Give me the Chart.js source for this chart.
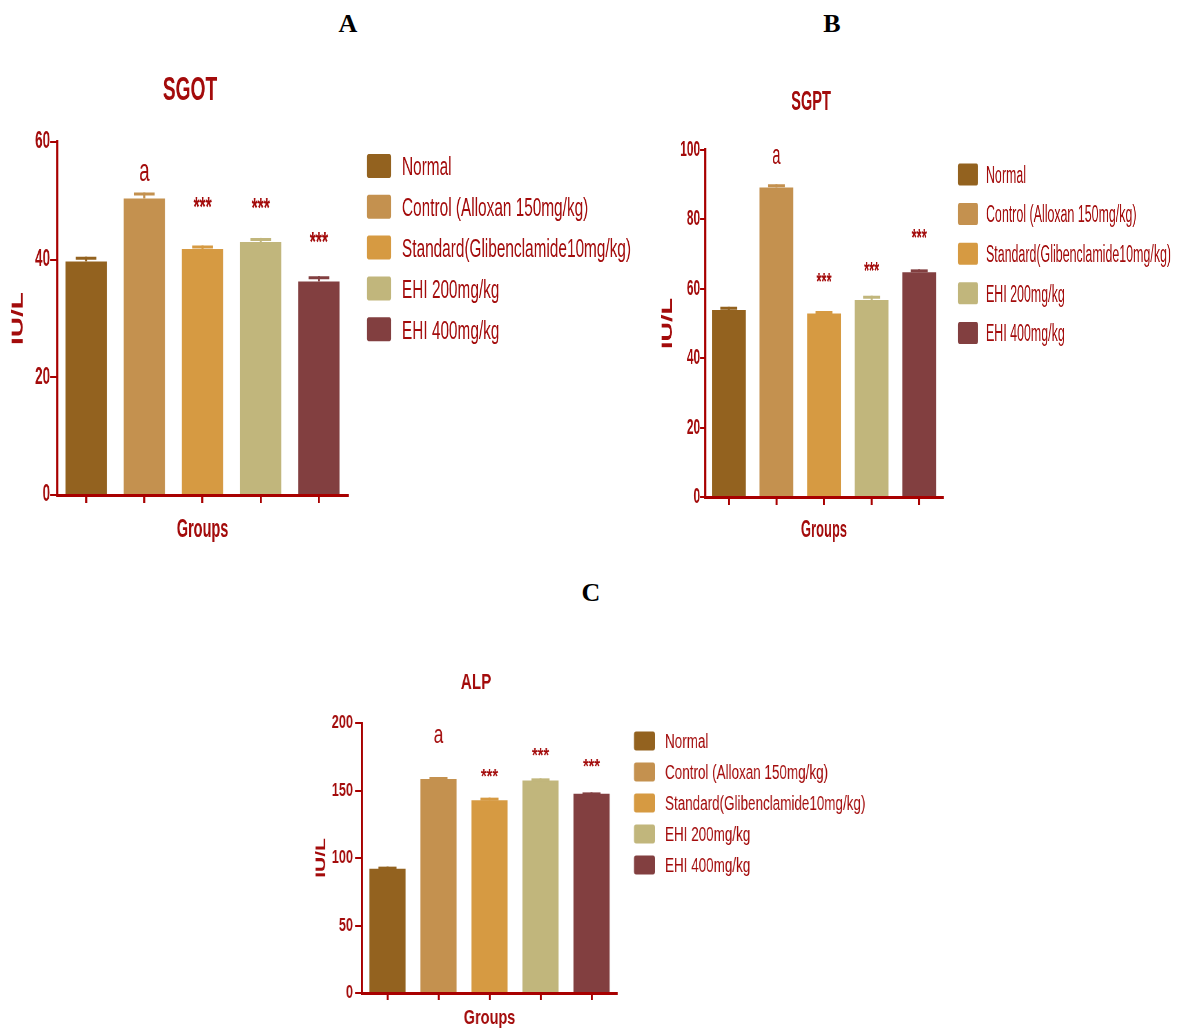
<!DOCTYPE html>
<html>
<head>
<meta charset="utf-8">
<title>SGOT / SGPT / ALP</title>
<script src="https://cdn.jsdelivr.net/npm/chart.js@4.4.1/dist/chart.umd.min.js"></script>
<style>
  html, body { margin: 0; padding: 0; background: #fff; }
  body { width: 1177px; height: 1028px; position: relative; overflow: hidden; }
  .panel { position: absolute; transform-origin: 0 0; }
  .panel canvas { display: block; }
  .letter {
    position: absolute;
    font-family: 'Liberation Serif', 'Times New Roman', serif;
    font-weight: bold;
    font-size: 26px;
    color: #000;
    transform: translate(-50%, -50%);
  }
</style>
</head>
<body>
<div class="letter" style="left:348px; top:24px;">A</div>
<div class="letter" style="left:832px; top:24px;">B</div>
<div class="letter" style="left:591px; top:593px;">C</div>

<div class="panel" id="panelA"><canvas id="sgotChart"></canvas></div>
<div class="panel" id="panelB"><canvas id="sgptChart"></canvas></div>
<div class="panel" id="panelC"><canvas id="alpChart"></canvas></div>

<script>
// Liver enzymes per treatment group (mean with upper SEM bar)

const groups = ['Normal', 'Control (Alloxan 150mg/kg)', 'Standard(Glibenclamide10mg/kg)', 'EHI 200mg/kg', 'EHI 400mg/kg'];
const barColors = ['#93621f', '#c4914f', '#d69a42', '#c1b67c', '#823f40'];
const sigMarks = ['', 'a', '***', '***', '***'];

// A - SGOT
const sgotMean = [39.7, 50.4, 41.8, 43.0, 36.3];
const sgotSem = [0.8, 1.0, 0.6, 0.7, 0.9];
const sgotMarkAt = [null, 54.9, 49.8, 49.5, 43.7];
const sgotTicks = [0, 20, 40, 60];

// B - SGPT
const sgptMean = [53.9, 89.2, 52.9, 56.8, 64.8];
const sgptSem = [0.9, 0.9, 0.7, 1.2, 0.8];
const sgptMarkAt = [null, 98.0, 63.4, 66.3, 75.8];
const sgptTicks = [0, 20, 40, 60, 80, 100];

// C - ALP
const alpMean = [92.1, 158.5, 142.7, 157.5, 147.6];
const alpSem = [1.5, 1.5, 2.0, 1.5, 1.0];
const alpMarkAt = [null, 190.4, 163.0, 178.5, 170.4];
const alpTicks = [0, 50, 100, 150, 200];

const TEXT_RED = '#a30b0b';
const AXIS_RED = '#a80000';
const FONT = "'Liberation Sans', Arial, Helvetica, sans-serif";

// draws title, error bars, significance marks and the legend
const panelExtras = {
    id: 'panelExtras',
    afterDatasetsDraw(chart, args, o) {
        const ctx = chart.ctx;
        const s = o.sx;
        const yScale = chart.scales.y;
        const meta = chart.getDatasetMeta(0);
        ctx.save();

        // error bars (upper only)
        meta.data.forEach((bar, i) => {
            const yTop = yScale.getPixelForValue(o.mean[i]);
            const yHi = yScale.getPixelForValue(o.mean[i] + o.sem[i]);
            const half = bar.width * 0.25;
            ctx.strokeStyle = barColors[i];
            ctx.lineWidth = 2 / s;
            ctx.beginPath();
            ctx.moveTo(bar.x, yTop);
            ctx.lineTo(bar.x, yHi);
            ctx.stroke();
            ctx.lineWidth = 3;
            ctx.beginPath();
            ctx.moveTo(bar.x - half, yHi + 1.5);
            ctx.lineTo(bar.x + half, yHi + 1.5);
            ctx.stroke();
        });

        // significance marks
        ctx.fillStyle = TEXT_RED;
        ctx.textAlign = 'center';
        ctx.textBaseline = 'alphabetic';
        meta.data.forEach((bar, i) => {
            const t = sigMarks[i];
            if (!t || o.markAt[i] == null) return;
            const isLetter = t === 'a';
            ctx.font = (isLetter ? 'normal ' + o.letterSize : 'bold ' + o.starSize) + 'px ' + FONT;
            const m = ctx.measureText(t);
            const yc = yScale.getPixelForValue(o.markAt[i]);
            ctx.fillText(t, bar.x, yc + (m.actualBoundingBoxAscent - m.actualBoundingBoxDescent) / 2);
        });
        ctx.restore();
    },
    afterDraw(chart, args, o) {
        const ctx = chart.ctx;
        const s = o.sx;
        const area = chart.chartArea;
        ctx.save();
        ctx.fillStyle = TEXT_RED;

        // panel title
        ctx.font = 'bold ' + o.titleSize + 'px ' + FONT;
        ctx.textAlign = 'center';
        ctx.textBaseline = 'alphabetic';
        const cx = (area.left + area.right) / 2 + o.titleDx / s;
        ctx.fillText(o.title, cx, area.top + o.titleDy + 0.358 * o.titleSize);

        // legend
        const lg = o.legend;
        ctx.font = 'normal ' + lg.size + 'px ' + FONT;
        ctx.textAlign = 'left';
        groups.forEach((g, i) => {
            const yc = area.top + lg.start + i * lg.step;
            ctx.fillStyle = barColors[i];
            ctx.beginPath();
            ctx.roundRect(area.right + lg.boxX / s, yc - lg.boxH / 2, lg.boxW / s, lg.boxH, 3);
            ctx.fill();
            ctx.fillStyle = TEXT_RED;
            ctx.fillText(g, area.right + lg.textX / s, yc + 0.358 * lg.size);
        });
        ctx.restore();
    }
};

function makePanel(p) {
    const wrap = document.getElementById(p.wrap);
    const s = p.sx;
    wrap.style.left = p.left + 'px';
    wrap.style.top = p.top + 'px';
    wrap.style.transform = 'scaleX(' + s + ')';

    const canvas = document.getElementById(p.canvas);
    canvas.width = Math.round(p.width / s);
    canvas.height = p.height;

    const yWidth = (p.area.left - p.left) / s;
    const rightPad = canvas.width - (p.area.right - p.left) / s;
    const topPad = p.area.top - p.top;
    const xHeight = p.height - (p.area.bottom - p.top);

    new Chart(canvas, {
        type: 'bar',
        data: {
            labels: groups,
            datasets: [{
                data: p.mean,
                backgroundColor: barColors,
                borderWidth: 0,
                barPercentage: 0.71,
                categoryPercentage: 1
            }]
        },
        options: {
            responsive: false,
            animation: false,
            events: [],
            layout: { padding: { left: 0, top: topPad, right: rightPad, bottom: 0 } },
            plugins: {
                legend: { display: false },
                tooltip: { enabled: false },
                panelExtras: {
                    sx: s,
                    mean: p.mean,
                    sem: p.sem,
                    markAt: p.markAt,
                    title: p.title,
                    titleSize: p.titleSize,
                    titleDx: p.titleDx,
                    titleDy: p.titleDy,
                    letterSize: p.letterSize,
                    starSize: p.starSize,
                    legend: p.legend
                }
            },
            scales: {
                x: {
                    offset: true,
                    ticks: { display: false },
                    grid: {
                        offset: false,
                        drawOnChartArea: false,
                        tickLength: p.xTick,
                        lineWidth: 2 / s,
                        color: AXIS_RED
                    },
                    border: { color: AXIS_RED, width: 3 },
                    title: {
                        display: true,
                        text: 'Groups',
                        color: TEXT_RED,
                        font: { family: FONT, size: p.groupsSize, weight: 'bold' },
                        padding: { top: 0, bottom: p.groupsPad }
                    },
                    afterFit: sc => { sc.height = xHeight; }
                },
                y: {
                    min: p.ticks[0],
                    max: p.ticks[p.ticks.length - 1],
                    afterBuildTicks: sc => { sc.ticks = p.ticks.map(v => ({ value: v })); },
                    ticks: {
                        color: TEXT_RED,
                        padding: p.tickPad / s,
                        font: { family: FONT, size: p.tickSize, weight: 'bold' }
                    },
                    grid: {
                        drawOnChartArea: false,
                        tickLength: p.yTick / s,
                        lineWidth: 2,
                        color: AXIS_RED
                    },
                    border: { color: AXIS_RED, width: 2 / s },
                    title: {
                        display: true,
                        text: 'IU/L',
                        color: TEXT_RED,
                        font: { family: FONT, size: p.unitSize, weight: 'bold' },
                        padding: { top: p.unitX / s - p.unitSize * 0.6, bottom: 0 }
                    },
                    afterFit: sc => { sc.width = yWidth; }
                }
            }
        },
        plugins: [panelExtras]
    });
}

document.addEventListener('DOMContentLoaded', function() {
    makePanel({
        wrap: 'panelA', canvas: 'sgotChart',
        left: 0, top: 40, width: 660, height: 520, sx: 0.58,
        area: { left: 57, right: 348, top: 142, bottom: 495 },
        mean: sgotMean, sem: sgotSem, markAt: sgotMarkAt, ticks: sgotTicks,
        title: 'SGOT', titleSize: 33, titleDx: -12.5, titleDy: -54,
        letterSize: 32, starSize: 27,
        tickSize: 23, tickPad: 0, yTick: 7, xTick: 8,
        unitSize: 28, unitX: 18,
        groupsSize: 25, groupsPad: 15,
        legend: { size: 26.5, start: 24, step: 40.8, boxX: 19, boxW: 24, boxH: 24, textX: 54 }
    });

    makePanel({
        wrap: 'panelB', canvas: 'sgptChart',
        left: 640, top: 40, width: 537, height: 520, sx: 0.54,
        area: { left: 705, right: 943, top: 150, bottom: 497 },
        mean: sgptMean, sem: sgptSem, markAt: sgptMarkAt, ticks: sgptTicks,
        title: 'SGPT', titleSize: 27, titleDx: -13, titleDy: -50,
        letterSize: 28, starSize: 24,
        tickSize: 22, tickPad: 0, yTick: 5, xTick: 8,
        unitSize: 27, unitX: 28,
        groupsSize: 24, groupsPad: 15,
        legend: { size: 23, start: 24.5, step: 39.6, boxX: 15, boxW: 20, boxH: 22, textX: 43 }
    });

    makePanel({
        wrap: 'panelC', canvas: 'alpChart',
        left: 290, top: 640, width: 620, height: 400, sx: 0.69,
        area: { left: 362, right: 617, top: 723, bottom: 993 },
        mean: alpMean, sem: alpSem, markAt: alpMarkAt, ticks: alpTicks,
        title: 'ALP', titleSize: 22, titleDx: -13.5, titleDy: -42,
        letterSize: 25, starSize: 21,
        tickSize: 18.5, tickPad: 2, yTick: 7, xTick: 7,
        unitSize: 21, unitX: 31,
        groupsSize: 21, groupsPad: 9,
        legend: { size: 19.5, start: 18, step: 31, boxX: 17, boxW: 21, boxH: 19, textX: 48 }
    });
});
</script>
</body>
</html>
